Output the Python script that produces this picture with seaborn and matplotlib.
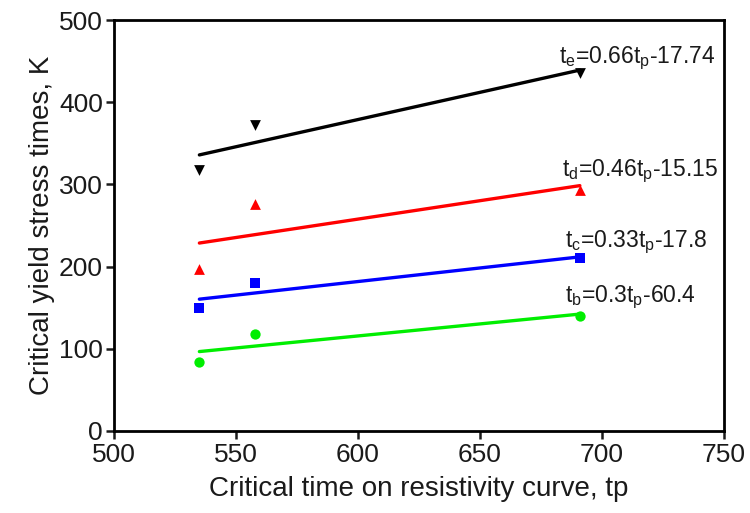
import matplotlib
matplotlib.use("Agg")
import matplotlib.pyplot as plt
import seaborn as sns
import pandas as pd

tp = [535, 558, 691]
tb = [84, 118, 140]
tc = [150, 180, 210]
td = [197, 276, 293]
te = [318, 372, 436]

series_names = ["b", "c", "d", "e"]
series_vals = [tb, tc, td, te]
colors = ["#00ee00", "#0000ff", "#ff0000", "#000000"]
markers = ["o", "s", "^", "v"]
sizes = [55, 55, 60, 60]
labels = [r"$\mathrm{t_b}$=0.3$\mathrm{t_p}$-60.4",
          r"$\mathrm{t_c}$=0.33$\mathrm{t_p}$-17.8",
          r"$\mathrm{t_d}$=0.46$\mathrm{t_p}$-15.15",
          r"$\mathrm{t_e}$=0.66$\mathrm{t_p}$-17.74"]
label_pos = [(685, 157), (685, 224), (683.5, 310), (682.5, 447)]

sns.set_theme(style="ticks")
plt.rcParams["font.family"] = ["Liberation Sans", "DejaVu Sans"]
plt.rcParams["mathtext.fontset"] = "custom"
plt.rcParams["mathtext.rm"] = "Liberation Sans"
plt.rcParams["mathtext.it"] = "Liberation Sans"

fig = plt.figure(figsize=(7.5, 5.13), dpi=100)
ax = fig.add_axes([0.152, 0.16, 0.813, 0.801])

for name, vals, c, m, s in zip(series_names, series_vals, colors, markers, sizes):
    df = pd.DataFrame({"tp": tp, "t": vals})
    sns.regplot(data=df, x="tp", y="t", ax=ax, ci=None, color=c, marker=m,
                scatter_kws={"s": s, "linewidths": 0, "alpha": 1},
                line_kws={"lw": 2.4})

for lab, (x, y) in zip(labels, label_pos):
    ax.text(x, y, lab, fontsize=16.5, ha="left", va="baseline", color="#1a1a1a")

ax.set_xlim(500, 750)
ax.set_ylim(0, 500)
ax.set_xticks([500, 550, 600, 650, 700, 750])
ax.set_yticks([0, 100, 200, 300, 400, 500])
ax.tick_params(axis="both", labelsize=19, length=6, width=1.8, direction="out",
               colors="#1a1a1a")
ax.tick_params(axis="x", pad=3)
ax.tick_params(axis="y", pad=2)
for sp in ax.spines.values():
    sp.set_linewidth(2)
    sp.set_color("black")
ax.set_xlabel("Critical time on resistivity curve, tp", fontsize=20, color="#1a1a1a", labelpad=6)
ax.set_ylabel("Critical yield stress times, K", fontsize=20, color="#1a1a1a", labelpad=3)

fig.savefig("out.png", dpi=100)
